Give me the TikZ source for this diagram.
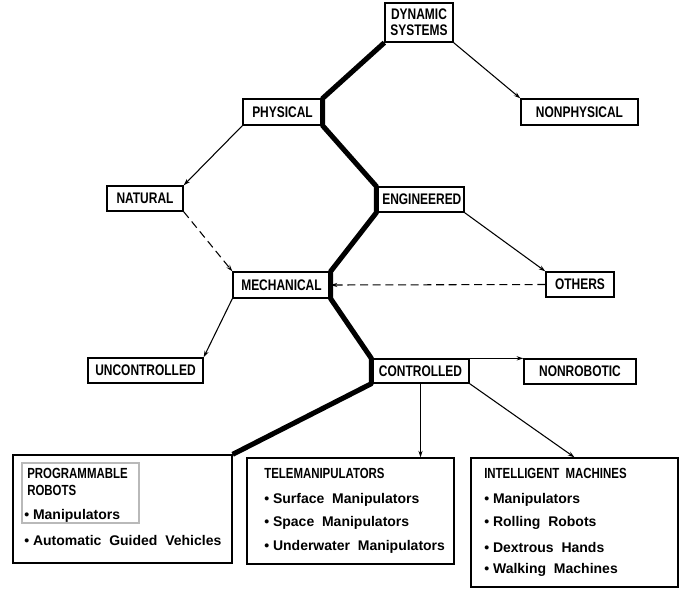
\documentclass[tikz,border=0pt]{standalone}
\usepackage{fontspec}
\setmainfont{Liberation Sans}
\newfontfamily\lblfont[FakeStretch=0.78]{Liberation Sans}
\usetikzlibrary{fit,arrows.meta}
\begin{document}
\begin{tikzpicture}[x=0.75pt,y=-0.75pt,
  box/.style={draw, line width=1pt, inner sep=0pt},
  lbl/.style={inner sep=0pt, align=center,
    font=\lblfont\bfseries\fontsize{11.5}{12}\selectfont},
  innerbox/.style={draw=gray!55, line width=0.8pt, inner sep=0pt},
  head/.style={anchor=west, inner sep=0pt, font=\lblfont\bfseries\fontsize{11}{12}\selectfont},
  item/.style={anchor=west, inner sep=0pt, font=\bfseries\fontsize{10.5}{12}\selectfont},
  thinarrow/.style={line width=0.8pt, -{Stealth[length=5pt,width=3.2pt]}},
  dashedarrow/.style={line width=0.8pt, dash pattern=on 6pt off 3.5pt, -{Stealth[length=5pt,width=3.2pt]}},
  mainpath/.style={line width=3.8pt, line join=round}
]
\useasboundingbox (0,0) rectangle (681,590);

% small boxes
\node[box, fit={(385,3) (453,42)}] (ds) {};
\node[box, fit={(243,99) (322,125)}] (phys) {};
\node[box, fit={(521,99) (638,125)}] (nonphys) {};
\node[box, fit={(107,186) (183,211)}] (nat) {};
\node[box, fit={(377,187) (464,212)}] (eng) {};
\node[box, fit={(233,272) (330,298)}] (mech) {};
\node[box, fit={(546,272) (614,297)}] (others) {};
\node[box, fit={(88,358) (203,383)}] (unc) {};
\node[box, fit={(372,359) (469,383)}] (ctrl) {};
\node[box, fit={(524,359) (636,384)}] (nonrob) {};

\node[lbl] (dsl) at (ds.center) {DYNAMIC\\[0pt]SYSTEMS};
\node[lbl] (physl) at (phys.center) {PHYSICAL};
\node[lbl] (nonphysl) at (nonphys.center) {NONPHYSICAL};
\node[lbl] (natl) at (nat.center) {NATURAL};
\node[lbl] (engl) at ([xshift=1pt]eng.center) {ENGINEERED};
\node[lbl] (mechl) at (mech.center) {MECHANICAL};
\node[lbl] (othersl) at (others.center) {OTHERS};
\node[lbl] (uncl) at (unc.center) {UNCONTROLLED};
\node[lbl] (ctrll) at (ctrl.center) {CONTROLLED};
\node[lbl] (nonrobl) at (nonrob.center) {NONROBOTIC};

% big boxes
\node[box, fit={(13,455) (232,563)}] (prog) {};
\node[innerbox, fit={(22,463) (139,523)}] (progin) {};
\node[box, fit={(247,458) (454,564)}] (tele) {};
\node[box, fit={(471,458) (678,587)}] (intel) {};

% texts of the big boxes
\node[head] (p1) at (27,473) {PROGRAMMABLE};
\node[head] (p2) at (27,490) {ROBOTS};
\node[item] (p3) at (24,516) {•\ Manipulators};
\node[item] (p4) at (24,540) {•\ Automatic\ \ Guided\ \ Vehicles};

\node[head] (t1) at (264,473) {TELEMANIPULATORS};
\node[item] (t2) at (264,500) {•\ Surface\ \ Manipulators};
\node[item] (t3) at (264,523) {•\ Space\ \ Manipulators};
\node[item] (t4) at (264,547) {•\ Underwater\ \ Manipulators};

\node[head] (i1) at (484,473) {INTELLIGENT\ \ MACHINES};
\node[item] (i2) at (484,500) {•\ Manipulators};
\node[item] (i3) at (484,523) {•\ Rolling\ \ Robots};
\node[item] (i4) at (484,547) {•\ Dextrous\ \ Hands};
\node[item] (i5) at (484,570) {•\ Walking\ \ Machines};

% thin connectors
\draw[thinarrow] (ds.south east) -- (nonphys.north west);
\draw[thinarrow] (phys.south west) -- (nat.north east);
\draw[dashedarrow] (nat.south east) -- (mech.north west);
\draw[thinarrow] (eng.south east) -- (others.north west);
\draw[dashedarrow] (others.west) -- (mech.east);
\draw[thinarrow] (mech.south west) -- (unc.north east);
\draw[thinarrow] (ctrl.north east) -- (nonrob.north west);
\draw[thinarrow] (ctrl.south) -- (ctrl.south |- tele.north);
\draw[thinarrow] (ctrl.south east) -- (intel.north);

% heavy path
\draw[mainpath] (ds.south west) -- (phys.north east) -- (phys.south east)
  -- (eng.north west) -- (eng.south west) -- (mech.north east) -- (mech.south east)
  -- (ctrl.north west) -- (ctrl.south west) -- (prog.north east);
\end{tikzpicture}
\end{document}
